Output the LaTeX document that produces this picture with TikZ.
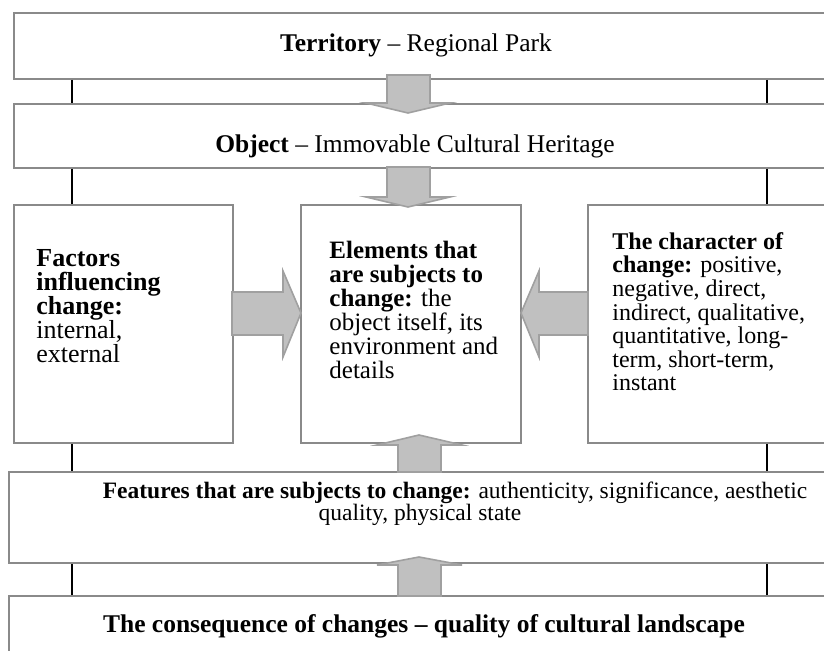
\documentclass[tikz,border=0pt]{standalone}
\usepackage{fontspec}
\setmainfont{Liberation Serif}
\newcommand{\tightlines}{\lineskiplimit=-20pt\relax}
\begin{document}
\begin{tikzpicture}[
    x=0.5pt, y=-0.5pt,
    every node/.style={inner sep=0pt, font=\fontsize{11.75}{12}\selectfont},
    big/.style={font=\fontsize{12.75}{12}\selectfont},
    box/.style={draw={rgb,255:red,138;green,138;blue,138}, line width=1pt, fill=white},
    link/.style={draw=black, line width=1pt},
    blk/.style={draw={rgb,255:red,160;green,160;blue,160}, fill={rgb,255:red,192;green,192;blue,192}, line width=0.8pt, line join=miter}
]
\useasboundingbox (0,0) rectangle (824,651);
\coordinate (lcol) at (72,0);
\coordinate (rcol) at (767,0);

\node[box, minimum width=407pt, minimum height=33pt] (terr) at (421,46) {};
\node[box, minimum width=407pt, minimum height=32pt] (obj) at (421,136) {};
\node[box, minimum width=109.5pt, minimum height=119pt] (fac) at (123.5,324) {};
\node[box, minimum width=110pt, minimum height=119pt] (elem) at (411,324) {};
\node[box, minimum width=120pt, minimum height=119pt] (char) at (708,324) {};
\node[box, minimum width=409.5pt, minimum height=45.5pt] (feat) at (418.5,517.5) {};
\node[box, minimum width=409.5pt, minimum height=34.5pt] (cons) at (418.5,630.5) {};

\draw[link] (terr.south -| lcol) -- (obj.north -| lcol);
\draw[link] (terr.south -| rcol) -- (obj.north -| rcol);
\draw[link] (obj.south -| lcol) -- (fac.north -| lcol);
\draw[link] (obj.south -| rcol) -- (char.north -| rcol);
\draw[link] (fac.south -| lcol) -- (feat.north -| lcol);
\draw[link] (char.south -| rcol) -- (feat.north -| rcol);
\draw[link] (feat.south -| lcol) -- (cons.north -| lcol);
\draw[link] (feat.south -| rcol) -- (cons.north -| rcol);

\draw[blk] (387,75) -- (430,75) -- (430,103) -- (450,103) -- (408,113) -- (366,103) -- (387,103) -- cycle;
\draw[blk] (387,167) -- (430,167) -- (430,197) -- (450,197) -- (408,207) -- (366,197) -- (387,197) -- cycle;
\draw[blk] (232,292) -- (283,292) -- (283,271) -- (301,313) -- (283,357) -- (283,335) -- (232,335) -- cycle;
\draw[blk] (588,292) -- (539,292) -- (539,271) -- (521,313) -- (539,357) -- (539,335) -- (588,335) -- cycle;
\draw[blk] (398,472) -- (441,472) -- (441,445) -- (462,445) -- (419,435) -- (377,445) -- (398,445) -- cycle;
\draw[blk] (398,596) -- (441,596) -- (441,565) -- (462,565) -- (419,557) -- (377,565) -- (398,565) -- cycle;

\node[big] (terrtxt) at (416,45) {\textbf{Territory} -- Regional Park};
\node[big] (objtxt) at (415,146) {\textbf{Object} -- Immovable Cultural Heritage};
\node[anchor=north west, align=left, font=\fontsize{13}{12}\selectfont] (factxt) at (36,249)
    {\textbf{Factors}\\\textbf{influencing}\\\textbf{change:}\\internal,\\external};
\node[anchor=north west, align=left, font=\fontsize{12.5}{12}\selectfont] (elemtxt) at (329,241)
    {\textbf{Elements that}\\\textbf{are subjects to}\\\textbf{change:} the\\object itself, its\\environment and\\details};
\node[anchor=north west, align=left, font=\fontsize{12}{11.8}\selectfont] (chartxt) at (612,232)
    {\textbf{The character of}\\\textbf{change:} positive,\\negative, direct,\\indirect, qualitative,\\quantitative, long-\\term, short-term,\\instant};
\node[align=center, font=\fontsize{11.75}{11}\selectfont\tightlines] (feattxt) at (420,504)
    {\hspace*{35pt}\textbf{Features that are subjects to change:} authenticity, significance, aesthetic\\quality, physical state};
\node[big] (constxt) at (424,626) {\textbf{The consequence of changes -- quality of cultural landscape}};
\end{tikzpicture}
\end{document}
